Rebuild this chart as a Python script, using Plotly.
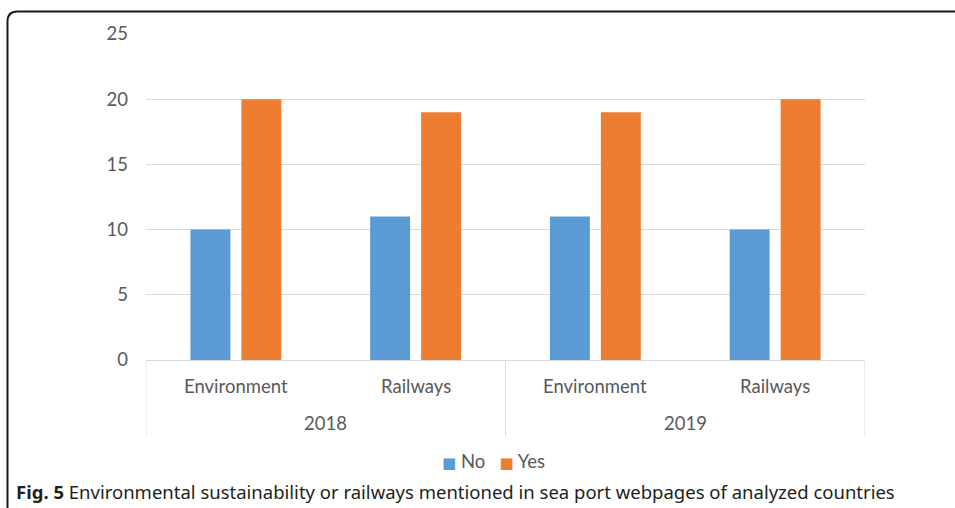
import plotly.graph_objects as go

categories = ["Environment", "Railways", "Environment", "Railways"]
years = ["2018", "2019"]
no_values = [10, 11, 11, 10]
yes_values = [20, 19, 19, 20]
y_ticks = [0, 5, 10, 15, 20, 25]
series_names = ["No", "Yes"]

BLUE = "#5B9BD5"
ORANGE = "#ED7D31"
TXT = "#595959"
FONT = "Lato"
FS = 18.5

xs = list(range(len(categories)))

fig = go.Figure()
fig.add_trace(go.Bar(x=xs, y=no_values, name=series_names[0], marker_color=BLUE, marker_line_width=0))
fig.add_trace(go.Bar(x=xs, y=yes_values, name=series_names[1], marker_color=ORANGE, marker_line_width=0))

W, H = 955, 508
L, R, T, B = 146, 865, 34, 360
pw, ph = R - L, B - T

def px_x(x):
    return (x - L) / pw

def px_y(y):
    return (B - y) / ph

shapes = []
# hierarchical axis dividers
for xv in [-0.5, 1.5, 3.5]:
    shapes.append(dict(type="line", xref="x", yref="paper", x0=xv, x1=xv,
                       y0=0, y1=px_y(436), line=dict(color="#D9D9D9", width=1)))
# outer rounded border
x0, y0 = px_x(7.5), px_y(11.5)
xr, yr = 10 / pw, 10 / ph
xend, ybot = px_x(970), px_y(520)
path = (f"M {x0},{ybot} L {x0},{y0 - yr} Q {x0},{y0} {x0 + xr},{y0} L {xend},{y0}")
shapes.append(dict(type="path", xref="paper", yref="paper", path=path,
                   line=dict(color="#1a1a1a", width=2)))

annotations = []
for i, c in enumerate(categories):
    annotations.append(dict(x=i, y=px_y(386), xref="x", yref="paper", text=c,
                            xanchor="center", yanchor="middle",
                            showarrow=False, font=dict(family=FONT, size=FS, color=TXT)))
for j, yr_ in enumerate(years):
    annotations.append(dict(x=0.5 + 2 * j, y=px_y(423), xref="x", yref="paper", text=yr_,
                            xanchor="center", yanchor="middle",
                            showarrow=False, font=dict(family=FONT, size=FS, color=TXT)))
# legend (compact, as in the reference)
sq = '<span style="color:{c};font-size:15px;font-family:DejaVu Sans">■</span>'
legend_text = (sq.format(c=BLUE) + " " + series_names[0] + "&nbsp;&nbsp;&nbsp;"
               + sq.format(c=ORANGE) + " " + series_names[1])
annotations.append(dict(x=px_x(493.5), y=px_y(461), xref="paper", yref="paper",
                        xanchor="center", yanchor="middle", showarrow=False,
                        text=legend_text, font=dict(family=FONT, size=FS, color=TXT)))
annotations.append(dict(x=px_x(14), y=px_y(492), xref="paper", yref="paper",
                        xanchor="left", yanchor="middle", showarrow=False,
                        text="<b>Fig. 5</b> Environmental sustainability or railways mentioned in sea port webpages of analyzed countries",
                        font=dict(family="Noto Sans", size=18.5, color="#231F20")))

fig.update_layout(
    width=W, height=H,
    margin=dict(l=L, r=W - R, t=T, b=H - B),
    paper_bgcolor="white", plot_bgcolor="white",
    barmode="group", bargap=0.433, bargroupgap=0.216,
    showlegend=False,
    xaxis=dict(range=[-0.5, 3.5], showticklabels=False, showgrid=False, zeroline=False,
               showline=False, ticks="", fixedrange=True),
    yaxis=dict(range=[0, 25], tickvals=y_ticks, showgrid=True, gridcolor="#D9D9D9",
               gridwidth=1, zeroline=True, zerolinecolor="#D9D9D9", zerolinewidth=1,
               showline=False, ticks="", ticklabelstandoff=17,
               tickfont=dict(family=FONT, size=FS, color=TXT)),
    shapes=shapes, annotations=annotations,
    font=dict(family=FONT, color=TXT),
)

fig.write_html("out.html", config={"displayModeBar": False},
               post_script="document.body.style.margin='0';")
